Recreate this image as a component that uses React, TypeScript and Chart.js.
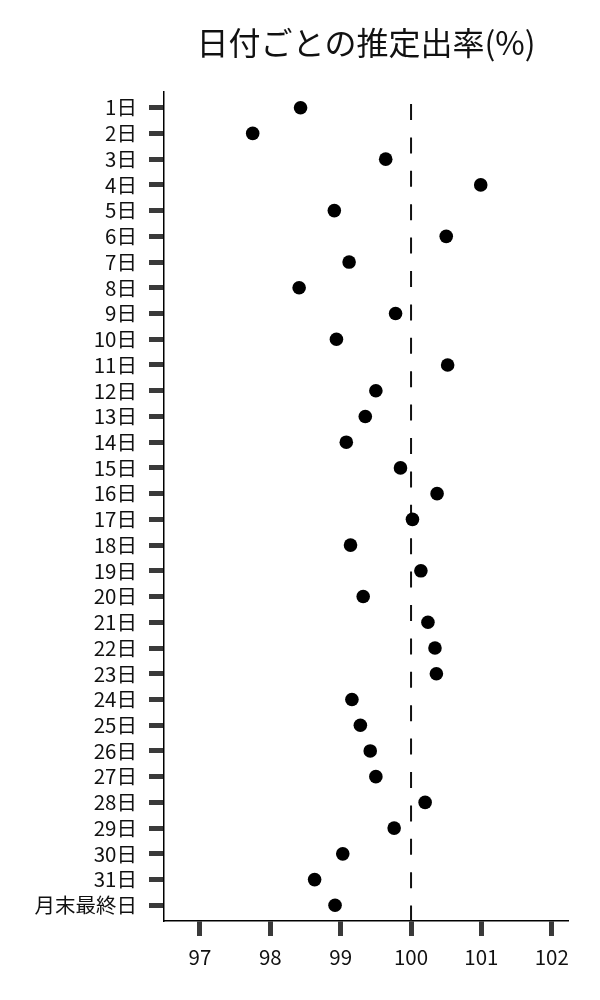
import React, { useEffect, useRef } from "react";
import { Chart, registerables } from "chart.js";

Chart.register(...registerables);

const chartTitle = "日付ごとの推定出率(%)";
const categories = [
  "1日", "2日", "3日", "4日", "5日", "6日", "7日", "8日", "9日", "10日",
  "11日", "12日", "13日", "14日", "15日", "16日", "17日", "18日", "19日", "20日",
  "21日", "22日", "23日", "24日", "25日", "26日", "27日", "28日", "29日", "30日",
  "31日", "月末最終日",
];
const rates = [
  98.43, 97.75, 99.64, 100.99, 98.91, 100.5, 99.12, 98.41, 99.78, 98.94,
  100.52, 99.5, 99.35, 99.08, 99.85, 100.37, 100.02, 99.14, 100.14, 99.32,
  100.24, 100.34, 100.36, 99.16, 99.28, 99.42, 99.5, 100.2, 99.76, 99.03,
  98.63, 98.92,
];
const xTickValues = [97, 98, 99, 100, 101, 102];
const xMin = 96.49;
const xMax = 102.23;
const yPad = 0.61;
const referenceValue = 100;

const FONT = '"Noto Sans CJK JP", "Noto Sans", sans-serif';

export default function App() {
  const canvasRef = useRef<HTMLCanvasElement | null>(null);

  useEffect(() => {
    const canvas = canvasRef.current;
    if (!canvas) return;

    const refLine = {
      id: "refLine",
      beforeDatasetsDraw(chart: any) {
        const { ctx, chartArea, scales } = chart;
        const x = scales.x.getPixelForValue(referenceValue);
        ctx.save();
        ctx.strokeStyle = "#111";
        ctx.lineWidth = 2;
        ctx.setLineDash([16, 17.4]);
        ctx.lineDashOffset = 33.4 - 12;
        ctx.beginPath();
        ctx.moveTo(x, chartArea.top);
        ctx.lineTo(x, chartArea.bottom);
        ctx.stroke();
        ctx.restore();
      },
    };

    const titlePlugin = {
      id: "centeredTitle",
      afterDraw(chart: any) {
        const { ctx, chartArea } = chart;
        ctx.save();
        ctx.font = `32px ${FONT}`;
        ctx.fillStyle = "#111";
        ctx.textAlign = "center";
        ctx.textBaseline = "middle";
        ctx.fillText(chartTitle, (chartArea.left + chartArea.right) / 2, 43);
        ctx.restore();
      },
    };

    const points = rates.map((r, i) => ({ x: r, y: i }));

    const chart = new Chart(canvas, {
      type: "scatter",
      data: {
        datasets: [
          {
            data: points,
            showLine: false,
            pointRadius: 6.8,
            pointHoverRadius: 6.8,
            pointBackgroundColor: "#000",
            pointBorderColor: "#000",
            pointBorderWidth: 0,
          },
        ],
      },
      options: {
        animation: false,
        responsive: false,
        devicePixelRatio: 1,
        events: [],
        layout: { padding: { top: 92, right: 32, bottom: 0, left: 0 } },
        plugins: {
          legend: { display: false },
          tooltip: { enabled: false },
          title: { display: false },
        },
        scales: {
          x: {
            type: "linear",
            position: "bottom",
            min: xMin,
            max: xMax,
            afterBuildTicks: (scale: any) => {
              scale.ticks = xTickValues.map((v) => ({ value: v }));
            },
            afterFit: (scale: any) => {
              scale.height = 79;
            },
            grid: {
              drawOnChartArea: false,
              drawTicks: true,
              tickLength: 15,
              tickWidth: 5,
              tickColor: "#3a3a3a",
            },
            border: { display: true, color: "#000", width: 1.5 },
            ticks: {
              font: { family: FONT, size: 20.5 },
              color: "#111",
              padding: 9,
              maxRotation: 0,
            },
          },
          y: {
            type: "linear",
            position: "left",
            reverse: true,
            min: -yPad,
            max: categories.length - 1 + yPad,
            afterBuildTicks: (scale: any) => {
              scale.ticks = categories.map((_, i) => ({ value: i }));
            },
            afterFit: (scale: any) => {
              scale.width = 164;
            },
            grid: {
              drawOnChartArea: false,
              drawTicks: true,
              tickLength: 15,
              tickWidth: 5,
              tickColor: "#3a3a3a",
            },
            border: { display: true, color: "#000", width: 1.5 },
            ticks: {
              autoSkip: false,
              font: { family: FONT, size: 20.5 },
              color: "#111",
              padding: 12,
              callback: (value: any) => categories[value as number],
            },
          },
        },
      },
      plugins: [refLine, titlePlugin],
    });

    return () => chart.destroy();
  }, []);

  return (
    <div
      style={{
        position: "fixed",
        left: 0,
        top: 0,
        width: 600,
        height: 1000,
        background: "#fff",
      }}
    >
      <canvas ref={canvasRef} width={600} height={1000} style={{ width: 600, height: 1000 }} />
    </div>
  );
}
